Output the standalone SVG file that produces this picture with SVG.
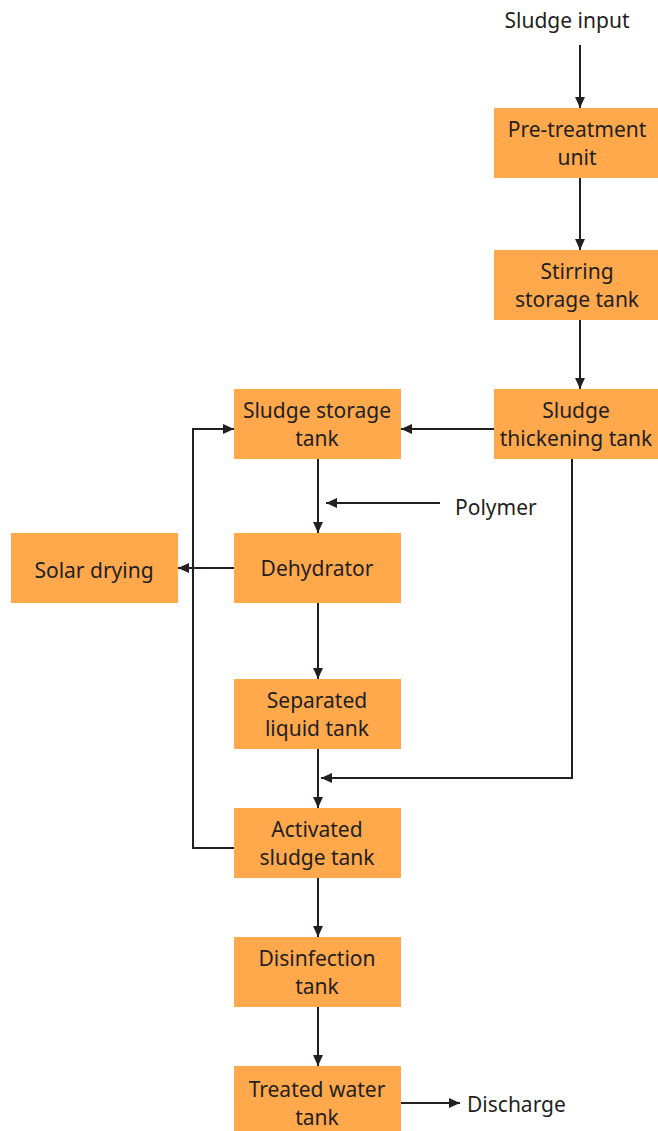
<svg xmlns="http://www.w3.org/2000/svg" width="658" height="1131" viewBox="0 0 658 1131">
<defs>
<marker id="ah" viewBox="0 0 10 10" refX="10" refY="5" markerWidth="11" markerHeight="11" markerUnits="userSpaceOnUse" orient="auto">
<path d="M0,0.5 L10,5 L0,9.5 Z" fill="#231F20"/>
</marker>
<style>
.box{fill:#FFA84C}
.t{font-family:"Noto Sans","Open Sans",sans-serif;font-size:21px;fill:#231F20;text-anchor:middle}
.l{font-family:"Noto Sans","Open Sans",sans-serif;font-size:21px;fill:#231F20}
.c{fill:none;stroke:#231F20;stroke-width:2}
</style>
</defs>
<rect width="658" height="1131" fill="#fff"/>
<text class="t" x="567" y="28">Sludge input</text>
<text class="l" x="455" y="515">Polymer</text>
<text class="l" x="467" y="1112">Discharge</text>
<g id="pretreatment"><rect class="box" x="494" y="108" width="164" height="70"/><text class="t" x="577" y="137">Pre-treatment</text><text class="t" x="577" y="165">unit</text></g>
<g id="stirring"><rect class="box" x="494" y="250" width="164" height="70"/><text class="t" x="577" y="279">Stirring</text><text class="t" x="577" y="307">storage tank</text></g>
<g id="thickening"><rect class="box" x="494" y="389" width="164" height="70"/><text class="t" x="576" y="418">Sludge</text><text class="t" x="576" y="446">thickening tank</text></g>
<g id="storage"><rect class="box" x="234" y="389" width="167" height="70"/><text class="t" x="317" y="418">Sludge storage</text><text class="t" x="317" y="446">tank</text></g>
<g id="dehydrator"><rect class="box" x="234" y="533" width="167" height="70"/><text class="t" x="317" y="576">Dehydrator</text></g>
<g id="solar"><rect class="box" x="11" y="533" width="167" height="70"/><text class="t" x="94" y="578">Solar drying</text></g>
<g id="separated"><rect class="box" x="234" y="679" width="167" height="70"/><text class="t" x="317" y="708">Separated</text><text class="t" x="317" y="736">liquid tank</text></g>
<g id="activated"><rect class="box" x="234" y="808" width="167" height="70"/><text class="t" x="317" y="837">Activated</text><text class="t" x="317" y="865">sludge tank</text></g>
<g id="disinfection"><rect class="box" x="234" y="937" width="167" height="70"/><text class="t" x="317" y="966">Disinfection</text><text class="t" x="317" y="994">tank</text></g>
<g id="treated"><rect class="box" x="234" y="1066" width="167" height="65"/><text class="t" x="317" y="1097">Treated water</text><text class="t" x="317" y="1125">tank</text></g>
<g id="connectors">
<path class="c" d="M580,45 V108" marker-end="url(#ah)"/>
<path class="c" d="M580,178 V250" marker-end="url(#ah)"/>
<path class="c" d="M580,320 V389" marker-end="url(#ah)"/>
<path class="c" d="M494,429 H401" marker-end="url(#ah)"/>
<path class="c" d="M318,459 V533" marker-end="url(#ah)"/>
<path class="c" d="M440,503 H326" marker-end="url(#ah)"/>
<path class="c" d="M234,568 H178" marker-end="url(#ah)"/>
<path class="c" d="M318,603 V679" marker-end="url(#ah)"/>
<path class="c" d="M318,749 V808" marker-end="url(#ah)"/>
<path class="c" d="M572,459 V778 H321" marker-end="url(#ah)"/>
<path class="c" d="M234,848 H193 V429 H234" marker-end="url(#ah)"/>
<path class="c" d="M318,878 V937" marker-end="url(#ah)"/>
<path class="c" d="M318,1007 V1066" marker-end="url(#ah)"/>
<path class="c" d="M401,1103 H460" marker-end="url(#ah)"/>
</g>
</svg>
